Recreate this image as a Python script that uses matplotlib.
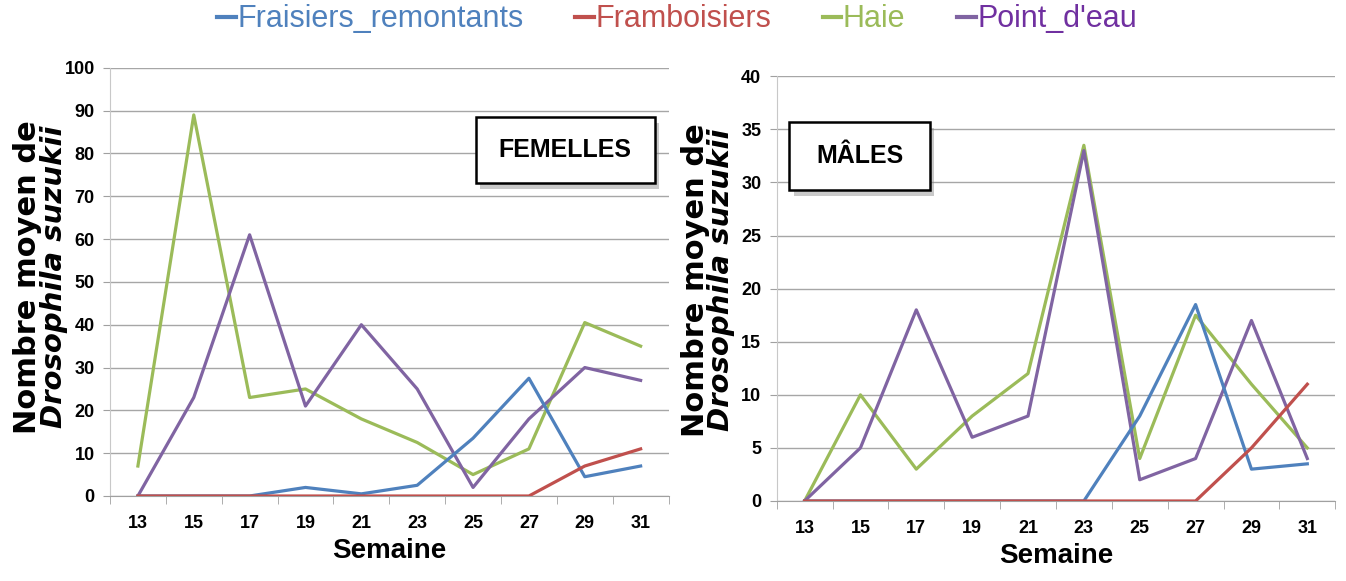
import matplotlib
matplotlib.use("Agg")
import matplotlib.pyplot as plt
from matplotlib import font_manager
from matplotlib.lines import Line2D
from matplotlib.patches import Rectangle
import numpy as np

semaines = [13, 15, 17, 19, 21, 23, 25, 27, 29, 31]
series = ["Fraisiers_remontants", "Framboisiers", "Haie", "Point_d'eau"]
colors = ["#4F81BD", "#C0504D", "#9BBB59", "#8064A2"]
text_colors = ["#4F81BD", "#C0504D", "#9BBB59", "#7030A0"]

# femelles
f_fraisiers = [0, 0, 0, 2, 0.5, 2.5, 13.5, 27.5, 4.5, 7]
f_framboisiers = [0, 0, 0, 0, 0, 0, 0, 0, 7, 11]
f_haie = [7, 89, 23, 25, 18, 12.5, 5, 11, 40.5, 35]
f_point = [0, 23, 61, 21, 40, 25, 2, 18, 30, 27]

# males
m_fraisiers = [0, 0, 0, 0, 0, 0, 8, 18.5, 3, 3.5]
m_framboisiers = [0, 0, 0, 0, 0, 0, 0, 0, 5, 11]
m_haie = [0, 10, 3, 8, 12, 33.5, 4, 17.5, 11, 5]
m_point = [0, 5, 18, 6, 8, 33, 2, 4, 17, 4]

names = [f.name for f in font_manager.fontManager.ttflist]
narrow = "Liberation Sans Narrow" if "Liberation Sans Narrow" in names else "Liberation Sans"

fig = plt.figure(figsize=(13.46, 5.81), dpi=100)
ax1 = fig.add_axes([0.0817, 0.1463, 0.415, 0.737])
ax2 = fig.add_axes([0.577, 0.1377, 0.415, 0.731])


def draw(ax, data, ymax, step, label, box):
    x = np.arange(len(semaines))
    # green and purple below, blue and red on top
    for i in [2, 3, 0, 1]:
        ax.plot(x, data[i], color=colors[i], lw=2.3, zorder=3)
    ax.set_xlim(-0.5, len(semaines) - 0.5)
    ax.set_ylim(0, ymax)
    yt = np.arange(0, ymax + 0.1, step)
    ax.set_yticks(yt)
    ax.set_yticklabels([str(int(v)) for v in yt], fontfamily=narrow,
                       fontweight="bold", fontsize=13)
    ax.set_xticks(x)
    ax.set_xticklabels([str(s) for s in semaines], fontfamily=narrow,
                       fontweight="bold", fontsize=13)
    ax.set_xticks(np.arange(-0.5, len(semaines)), minor=True)
    ax.tick_params(axis="x", which="major", length=0, pad=14)
    ax.tick_params(axis="x", which="minor", length=6, color="#A0A0A0", direction="out")
    ax.tick_params(axis="y", length=5, color="#A0A0A0", pad=6)
    ax.grid(axis="y", color="#A6A6A6", lw=1.0)
    ax.set_axisbelow(True)
    for s in ["top", "right"]:
        ax.spines[s].set_visible(False)
    ax.spines["left"].set_color("#C8C8C8")
    ax.spines["bottom"].set_color("#A0A0A0")
    ax.set_xlabel("Semaine", fontfamily=narrow, fontweight="bold", fontsize=20, labelpad=4)
    x0, y0, w, h = box
    ax.add_patch(Rectangle((x0 + 0.008, y0 - 0.014), w, h, transform=ax.transAxes,
                           fc="#888888", ec="none", alpha=0.45, zorder=4, clip_on=False))
    ax.add_patch(Rectangle((x0, y0), w, h, transform=ax.transAxes, fc="white",
                           ec="black", lw=1.8, zorder=5, clip_on=False))
    ax.text(x0 + w / 2, y0 + h / 2, label, transform=ax.transAxes, fontfamily="Liberation Sans",
            fontweight="bold", fontsize=18, ha="center", va="center", zorder=6)


draw(ax1, [f_fraisiers, f_framboisiers, f_haie, f_point], 100, 10, "FEMELLES",
     (0.655, 0.731, 0.32, 0.155))
draw(ax2, [m_fraisiers, m_framboisiers, m_haie, m_point], 40, 5, "MÂLES",
     (0.023, 0.732, 0.251, 0.16))

for xl, yc in [(0.0205, 0.523), (0.5165, 0.518)]:
    fig.text(xl, yc, "Nombre moyen de", rotation=90, ha="center", va="center",
             fontfamily="DejaVu Sans", fontweight="bold", fontsize=22)
    fig.text(xl + 0.0195, yc, "Drosophila suzukii", rotation=90, ha="center", va="center",
             fontfamily="DejaVu Sans", fontweight="bold", fontstyle="italic", fontsize=21)

handles = [Line2D([0], [0], color=c, lw=3) for c in colors]
fig.legend(handles, series, loc="upper center", bbox_to_anchor=(0.503, 1.04), ncol=4,
           frameon=False, handlelength=0.6, handletextpad=0.05, columnspacing=1.7,
           prop={"family": narrow, "size": 22}, labelcolor=text_colors)

fig.savefig("out.png", dpi=100)
